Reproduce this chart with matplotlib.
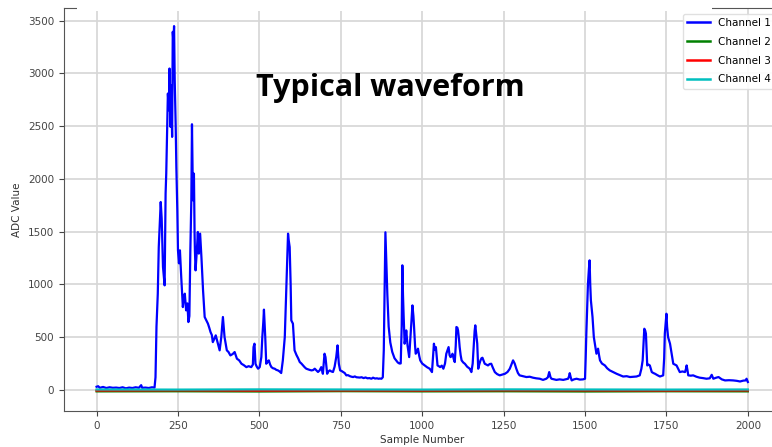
import matplotlib
matplotlib.use("Agg")
import matplotlib.pyplot as plt
from matplotlib.patches import Rectangle

# Channel 1: sample index / ADC value pairs along the trace
ch1_samples = [0, 5, 10, 20, 30, 40, 50, 60, 70, 80, 90, 100, 110, 120, 130, 137, 140, 150, 160, 170, 178,
               181, 184, 188, 191, 194, 197, 200, 204, 209, 212, 214, 217, 219, 222, 224, 227, 229, 232,
               234, 236, 238, 240, 243, 245, 248, 250, 253, 256, 260, 265, 268, 271, 275, 279, 282, 285,
               288, 291, 293, 296, 299, 301, 302, 304, 308, 311, 314, 318, 322, 327, 332, 337, 342, 346,
               350, 354, 357, 361, 366, 370, 373, 378, 383, 388, 393, 400, 405, 411, 418, 424, 431, 438,
               445, 452, 460, 467, 475, 480, 482, 485, 488, 492, 496, 501, 506, 509, 512, 514, 518, 521,
               525, 529, 533, 537, 542, 547, 552, 557, 562, 567, 572, 578, 583, 586, 588, 590, 593, 596,
               598, 603, 608, 614, 619, 624, 629, 634, 639, 644, 649, 654, 660, 665, 670, 675, 680, 685,
               690, 695, 700, 703, 708, 712, 716, 721, 726, 731, 736, 740, 744, 748, 752, 757, 762, 767,
               772, 778, 783, 788, 793, 798, 803, 808, 814, 820, 826, 832, 838, 844, 849, 855, 861, 866,
               870, 875, 879, 882, 885, 887, 889, 891, 893, 897, 902, 908, 915, 920, 925, 930, 934, 937,
               939, 941, 943, 946, 949, 951, 955, 960, 965, 970, 973, 975, 978, 980, 984, 987, 991, 994,
               1000, 1008, 1015, 1023, 1030, 1033, 1036, 1039, 1042, 1047, 1051, 1055, 1060, 1065, 1070,
               1074, 1078, 1081, 1084, 1087, 1090, 1093, 1097, 1100, 1103, 1105, 1108, 1110, 1113, 1115,
               1118, 1121, 1126, 1131, 1138, 1146, 1151, 1155, 1158, 1161, 1163, 1166, 1169, 1172, 1176,
               1179, 1182, 1185, 1188, 1192, 1197, 1202, 1207, 1212, 1217, 1223, 1230, 1238, 1246, 1254,
               1262, 1269, 1274, 1279, 1284, 1289, 1294, 1299, 1310, 1320, 1330, 1340, 1350, 1361, 1371,
               1381, 1386, 1390, 1394, 1397, 1405, 1412, 1422, 1433, 1440, 1448, 1451, 1453, 1456, 1459,
               1466, 1474, 1484, 1494, 1500, 1502, 1504, 1507, 1509, 1512, 1514, 1516, 1518, 1521, 1523,
               1525, 1527, 1531, 1535, 1538, 1540, 1543, 1546, 1552, 1561, 1568, 1576, 1586, 1597, 1607,
               1617, 1628, 1638, 1648, 1658, 1668, 1673, 1677, 1680, 1682, 1685, 1687, 1689, 1691, 1695,
               1699, 1702, 1705, 1710, 1715, 1722, 1730, 1735, 1740, 1743, 1745, 1748, 1750, 1752, 1755,
               1758, 1761, 1764, 1766, 1769, 1771, 1776, 1781, 1786, 1791, 1799, 1807, 1810, 1812, 1815,
               1817, 1825, 1832, 1842, 1852, 1862, 1873, 1883, 1889, 1892, 1894, 1902, 1910, 1920, 1930,
               1942, 1955, 1966, 1976, 1986, 1993, 1996, 2000]
ch1_values = [30, 35, 20, 28, 18, 25, 20, 22, 18, 25, 15, 22, 18, 25, 20, 45, 20, 22, 18, 25, 22,
              120, 600, 912, 1354, 1560, 1781, 1624, 1165, 991, 1862, 2053, 2500, 2809, 2650, 3046, 2493, 2888, 2398,
              3394, 3300, 3448, 2935, 2500, 2113, 1700, 1323, 1200, 1323, 1070, 785, 880, 912, 754, 820, 643, 700,
              1323, 1797, 2518, 1797, 2050, 1482, 1323, 1133, 1323, 1497, 1292, 1481, 1260, 944, 691, 660, 628, 590,
              548, 520, 453, 480, 517, 470, 438, 375, 501, 691, 501, 375, 360, 327, 340, 359, 296, 280,
              248, 235, 216, 225, 216, 240, 406, 438, 248, 220, 201, 216, 311, 501, 640, 761, 501, 248,
              265, 280, 240, 216, 205, 201, 190, 185, 175, 160, 280, 501, 1007, 1300, 1481, 1420, 1354, 1000,
              659, 628, 375, 330, 300, 264, 250, 232, 215, 201, 195, 190, 185, 188, 201, 185, 170, 185,
              216, 153, 343, 311, 153, 175, 185, 175, 170, 220, 311, 422, 248, 185, 180, 170, 160, 138,
              140, 130, 125, 122, 128, 120, 118, 117, 120, 112, 118, 110, 112, 106, 116, 108, 110, 106,
              108, 106, 120, 375, 1007, 1494, 1300, 1100, 900, 600, 450, 360, 300, 280, 260, 250, 251, 600,
              1181, 900, 700, 438, 500, 564, 420, 311, 550, 801, 700, 596, 420, 343, 360, 391, 320, 280,
              250, 232, 215, 201, 169, 300, 438, 380, 406, 232, 225, 216, 230, 201, 250,
              343, 380, 406, 330, 311, 320, 343, 290, 264, 420, 596, 590, 564, 480, 406,
              330, 280, 260, 248, 220, 201, 169, 250, 406, 560, 612, 520, 438, 201, 250,
              280, 300, 305, 280, 248, 240, 232, 245, 248, 210, 169, 150, 138, 145, 153,
              170, 201, 240, 280, 250, 201, 160, 138, 130, 122, 125, 116, 110, 106, 95,
              106, 120, 169, 120, 106, 100, 95, 100, 95, 100, 106, 130, 159, 120, 90,
              100, 106, 98, 100, 106, 300, 533, 800, 1007, 1150, 1228, 1000, 849, 750, 691,
              600, 501, 420, 343, 370, 391, 330, 280, 250, 232, 205, 185, 170, 153, 140,
              127, 130, 122, 125, 127, 138, 200, 280, 450, 580, 560, 533, 380, 232, 240,
              232, 200, 169, 160, 153, 140, 127, 132, 138, 300, 533, 650, 722, 600, 501,
              470, 438, 380, 343, 290, 248, 240, 232, 200, 169, 175, 169, 200, 232, 180,
              138, 135, 138, 125, 116, 112, 106, 110, 143, 120, 106, 115, 122, 100, 90,
              92, 90, 86, 80, 88, 90, 106, 75]

# Channels 2-4 stay at the baseline
base_samples = [0, 250, 500, 750, 1000, 1250, 1500, 1750, 2000]
ch2_values = [-14, -13, -15, -12, -14, -13, -15, -13, -14]
ch3_values = [-6, -4, -7, -5, -6, -4, -5, -6, -5]
ch4_values = [4, 3, 5, 4, 3, 5, 4, 3, 4]

x_ticks = [0, 250, 500, 750, 1000, 1250, 1500, 1750, 2000]
y_ticks = [0, 500, 1000, 1500, 2000, 2500, 3000, 3500]

fig = plt.figure(figsize=(7.72, 4.47), dpi=100)
ax = fig.add_axes([0.0829, 0.0805, 0.928, 0.9005])

ax.plot(ch1_samples, ch1_values, color="blue", linewidth=1.6, label="Channel 1")
ax.plot(base_samples, ch2_values, color="green", linewidth=1.6, label="Channel 2")
ax.plot(base_samples, ch3_values, color="red", linewidth=1.6, label="Channel 3")
ax.plot(base_samples, ch4_values, color="c", linewidth=1.6, label="Channel 4")

ax.set_xlim(-100, 2100)
ax.set_ylim(-200, 3615)
ax.set_xticks(x_ticks)
ax.set_yticks(y_ticks)
ax.grid(True, color="#d6d6d6", linewidth=1.2)
ax.set_axisbelow(True)

ax.tick_params(labelsize=7.5, colors="#444444", length=3.5)
for side in ["left", "bottom", "top", "right"]:
    ax.spines[side].set_color("#555555")
ax.set_xlabel("Sample Number", fontsize=7.5, color="#333333", labelpad=3)
ax.set_ylabel("ADC Value", fontsize=7.5, color="#333333", labelpad=4)

leg = ax.legend(loc="upper right", fontsize=7.5, framealpha=0.9, edgecolor="#dddddd",
                handlelength=2.2, labelspacing=0.85)
for line in leg.get_lines():
    line.set_linewidth(1.8)

# blank strip over the top edge
fig.add_artist(Rectangle((77 / 772, 1 - 11 / 447), (712 - 77) / 772, 11 / 447,
                         transform=fig.transFigure, facecolor="white", edgecolor="none", zorder=10))

fig.text(390.5 / 772, 1 - 96 / 447, "Typical waveform", ha="center", va="baseline",
         fontsize=22, fontweight="bold", family="Open Sans", color="black")

fig.savefig("out.png", dpi=100)
